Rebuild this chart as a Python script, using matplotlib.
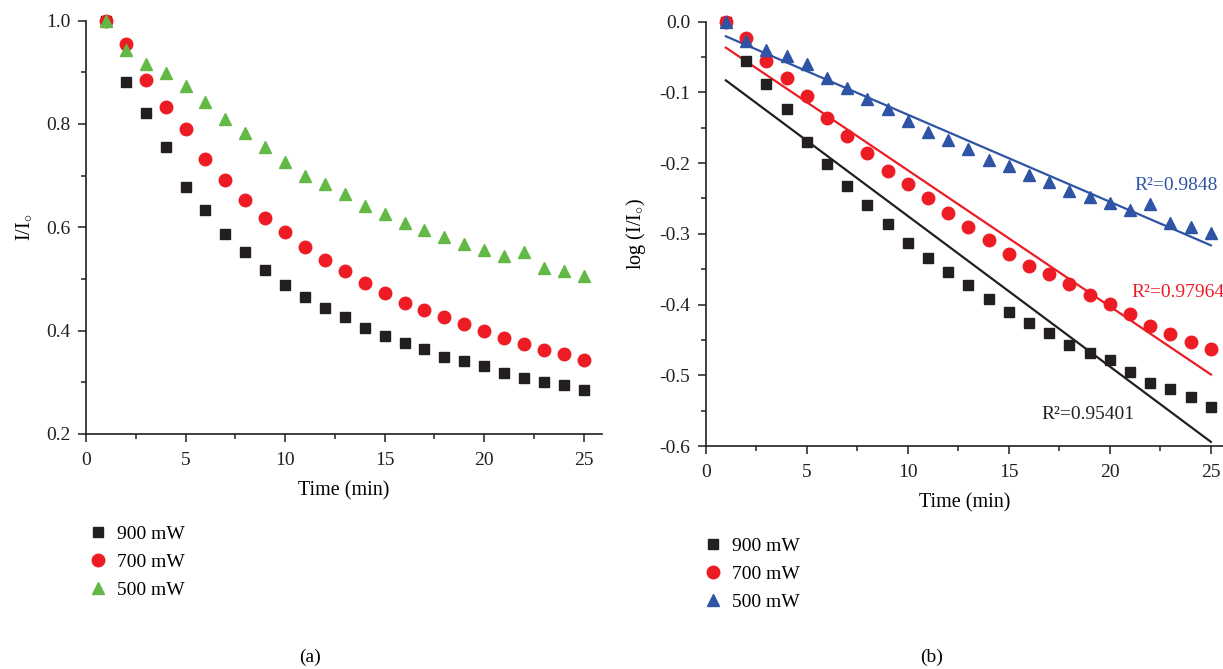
import numpy as np
import matplotlib
matplotlib.use("Agg")
import matplotlib.pyplot as plt

plt.rcParams['font.family'] = ['Liberation Serif', 'DejaVu Serif']
plt.rcParams['mathtext.fontset'] = 'custom'
plt.rcParams['mathtext.rm'] = 'Liberation Serif'
plt.rcParams['mathtext.it'] = 'Liberation Serif:italic'

# time points (min)
time = [1, 2, 3, 4, 5, 6, 7, 8, 9, 10, 11, 12, 13,
        14, 15, 16, 17, 18, 19, 20, 21, 22, 23, 24, 25]

# (a) normalised intensity I/Io
ratio_900 = [1.0, 0.882, 0.821, 0.755, 0.678, 0.633, 0.587, 0.552, 0.517, 0.488, 0.466, 0.444, 0.427,
             0.405, 0.390, 0.377, 0.364, 0.349, 0.341, 0.331, 0.318, 0.308, 0.301, 0.295, 0.285]
ratio_700 = [1.0, 0.954, 0.886, 0.833, 0.790, 0.733, 0.691, 0.652, 0.619, 0.590, 0.562, 0.537, 0.516,
             0.492, 0.473, 0.454, 0.440, 0.426, 0.412, 0.399, 0.386, 0.374, 0.362, 0.354, 0.344]
ratio_500 = [1.0, 0.943, 0.917, 0.899, 0.874, 0.843, 0.809, 0.782, 0.755, 0.727, 0.699, 0.683, 0.664,
             0.641, 0.626, 0.609, 0.595, 0.582, 0.567, 0.557, 0.544, 0.552, 0.521, 0.515, 0.506]

# (b) log(I/Io)
log_900 = [0.0, -0.056, -0.088, -0.123, -0.170, -0.201, -0.232, -0.259, -0.286, -0.313, -0.334, -0.354, -0.372,
           -0.392, -0.411, -0.426, -0.440, -0.457, -0.468, -0.479, -0.496, -0.511, -0.520, -0.531, -0.545]
log_700 = [0.0, -0.023, -0.055, -0.079, -0.105, -0.136, -0.161, -0.186, -0.211, -0.230, -0.250, -0.271, -0.290,
           -0.309, -0.328, -0.345, -0.357, -0.371, -0.387, -0.399, -0.414, -0.430, -0.442, -0.453, -0.463]
log_500 = [0.0, -0.028, -0.040, -0.049, -0.060, -0.079, -0.094, -0.110, -0.124, -0.141, -0.156, -0.167, -0.180,
           -0.195, -0.204, -0.217, -0.227, -0.239, -0.248, -0.256, -0.266, -0.258, -0.284, -0.290, -0.299]

labels = ['900 mW', '700 mW', '500 mW']
r2_labels = ['R\u00b2=0.95401', 'R\u00b2=0.97964', 'R\u00b2=0.9848']

black = '#231f20'
red = '#ed1c24'
green = '#62b946'
blue = '#2f54a5'

FS = 14

fig = plt.figure(figsize=(12.23, 6.69), dpi=100)
ax1 = fig.add_axes([0.0703, 0.3513, 0.4217, 0.6178])
ax2 = fig.add_axes([0.5770, 0.3333, 0.4230, 0.6343])


def style_axes(ax):
    for s in ['top', 'right']:
        ax.spines[s].set_visible(False)
    for s in ['left', 'bottom']:
        ax.spines[s].set_linewidth(1.2)
        ax.spines[s].set_color('#231f20')
    ax.tick_params(which='major', direction='out', length=6, width=1.1, labelsize=FS, pad=5,
                   colors='#231f20')
    ax.tick_params(axis='x', which='major', pad=7)
    ax.tick_params(which='minor', direction='out', length=3.5, width=1.1, colors='#231f20')


# (a)
h1 = ax1.plot(time, ratio_900, 's', color=black, ms=7, clip_on=False, zorder=3)[0]
h2 = ax1.plot(time, ratio_700, 'o', color=red, ms=9, clip_on=False, zorder=3)[0]
h3 = ax1.plot(time, ratio_500, '^', color=green, ms=9, clip_on=False, zorder=3)[0]
ax1.set_xlim(0, 25.9)
ax1.set_ylim(0.2, 1.0)
ax1.set_xticks([0, 5, 10, 15, 20, 25])
ax1.set_xticks([2.5, 7.5, 12.5, 17.5, 22.5], minor=True)
ax1.set_yticks([0.2, 0.4, 0.6, 0.8, 1.0])
ax1.set_yticks([0.3, 0.5, 0.7, 0.9], minor=True)
ax1.set_yticklabels(['0.2', '0.4', '0.6', '0.8', '1.0'])
style_axes(ax1)
ax1.set_xlabel('Time (min)', fontsize=FS + 0.5, labelpad=9)
ax1.set_ylabel(r'I/I$_{\circ}$', fontsize=FS + 0.5, labelpad=9)
fig.legend([h1, h2, h3], labels, loc='upper left', bbox_to_anchor=(0.066, 0.226),
           frameon=False, fontsize=FS, handletextpad=0.45, labelspacing=0.52,
           handlelength=1.0, borderaxespad=0)

# (b)
g1 = ax2.plot(time, log_900, 's', color=black, ms=7, clip_on=False, zorder=3)[0]
g2 = ax2.plot(time, log_700, 'o', color=red, ms=9, clip_on=False, zorder=3)[0]
g3 = ax2.plot(time, log_500, '^', color=blue, ms=9, clip_on=False, zorder=3)[0]
t = np.array(time)
for series, col in [(log_900, black), (log_700, red), (log_500, blue)]:
    k, b = np.polyfit(t, series, 1)
    ax2.plot(t, k * t + b, '-', color=col, lw=1.6, zorder=2)
ax2.text(16.6, -0.555, r2_labels[0], color=black, fontsize=FS, va='center')
ax2.text(21.05, -0.383, r2_labels[1], color=red, fontsize=FS, va='center', clip_on=False)
ax2.text(21.2, -0.231, r2_labels[2], color=blue, fontsize=FS, va='center', clip_on=False)
ax2.set_xlim(0, 25.6)
ax2.set_ylim(-0.6, 0.0)
ax2.set_xticks([0, 5, 10, 15, 20, 25])
ax2.set_xticks([2.5, 7.5, 12.5, 17.5, 22.5], minor=True)
ax2.set_yticks([-0.6, -0.5, -0.4, -0.3, -0.2, -0.1, 0.0])
ax2.set_yticklabels(['-0.6', '-0.5', '-0.4', '-0.3', '-0.2', '-0.1', '0.0'])
ax2.set_yticks([-0.55, -0.45, -0.35, -0.25, -0.15, -0.05], minor=True)
style_axes(ax2)
ax2.set_xlabel('Time (min)', fontsize=FS + 0.5, labelpad=9)
ax2.set_ylabel(r'log (I/I$_{\circ}$)', fontsize=FS + 0.5, labelpad=8)
fig.legend([g1, g2, g3], labels, loc='upper left', bbox_to_anchor=(0.569, 0.208),
           frameon=False, fontsize=FS, handletextpad=0.45, labelspacing=0.52,
           handlelength=1.0, borderaxespad=0)

fig.text(0.2535, 0.017, '(a)', fontsize=FS, ha='center', va='center')
fig.text(0.762, 0.017, '(b)', fontsize=FS, ha='center', va='center')

fig.savefig('out.png', dpi=100)
